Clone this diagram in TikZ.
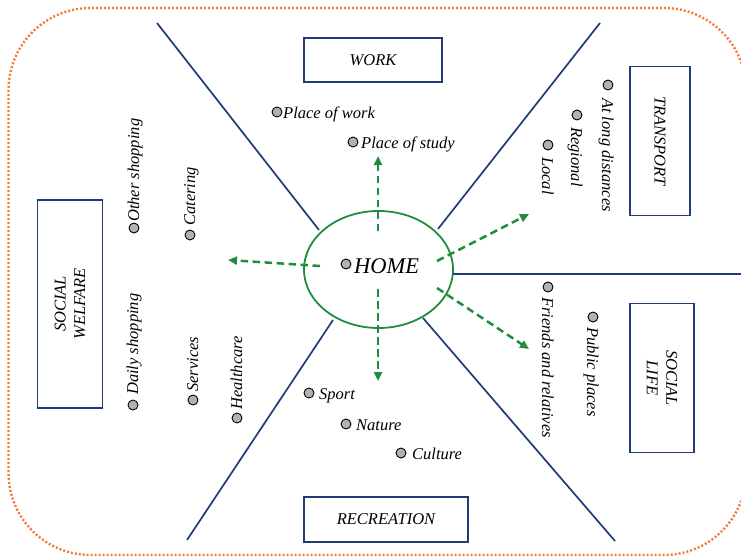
\documentclass[tikz,border=0pt]{standalone}
\usepackage{fontspec}
\setmainfont{Liberation Serif}
\usetikzlibrary{shapes.geometric,arrows.meta,calc}
\definecolor{navyc}{HTML}{203C78}
\definecolor{orangec}{HTML}{F47A3A}
\definecolor{greenc}{HTML}{1F8C3E}
\definecolor{dotgray}{HTML}{B2B2B4}
\begin{document}
\begin{tikzpicture}[x=1pt,y=-1pt,
  lbl/.style={font=\fontsize{16.5}{19}\selectfont\itshape, inner sep=0pt},
  itm/.style={circle, draw=black, fill=dotgray, line width=0.9pt, minimum size=10pt, inner sep=0pt},
  boxn/.style={draw=navyc, line width=1.8pt, fill=white, inner sep=0pt, align=center,
    font=\fontsize{16.5}{19.5}\selectfont\itshape},
  navyline/.style={draw=navyc, line width=1.7pt},
  garrow/.style={draw=greenc, line width=2.5pt, dash pattern=on 7.5pt off 4.5pt,
    -{Triangle[length=9pt,width=8pt]}},
  border/.style={draw=orangec, line width=2.4pt, dash pattern=on 2pt off 2pt, rounded corners=82pt}
]
\path[use as bounding box] (0,0) rectangle (741,557);
\clip (0,0) rectangle (741,557);

% outer border
\draw[border] (8.5,8) rectangle (746,555);

% home ellipse
\node[ellipse, draw=greenc, line width=1.8pt, minimum width=149pt, minimum height=117pt, inner sep=0pt] (home) at (378.5,269.5) {};
\node[itm] (homedot) at (346,264) {};
\node[inner sep=0pt, anchor=base west, font=\fontsize{22.5}{26}\selectfont\itshape] (hometxt) at (354,273) {HOME};

% navy dividing lines
\coordinate (l1a) at (157,23);  \coordinate (l1b) at (319,230);
\coordinate (l2a) at (600,23);  \coordinate (l2b) at (438,229);
\coordinate (l3a) at (453,274); \coordinate (l3b) at (746,274);
\coordinate (l4a) at (187,540); \coordinate (l4b) at (333,320);
\coordinate (l5a) at (615,541); \coordinate (l5b) at (423,318);
\draw[navyline] (l1a) -- (l1b);
\draw[navyline] (l2a) -- (l2b);
\draw[navyline] (l3a) -- (l3b);
\draw[navyline] (l4a) -- (l4b);
\draw[navyline] (l5a) -- (l5b);

% boxes
\node[boxn, minimum width=138pt, minimum height=44pt] (work) at (373,60) {WORK};
\node[boxn, rotate=-90, minimum width=149pt, minimum height=60pt] (transport) at (660,141) {TRANSPORT};
\node[boxn, rotate=90, minimum width=208pt, minimum height=65pt] (welfare) at (70,304) {SOCIAL\\WELFARE};
\node[boxn, rotate=-90, minimum width=149pt, minimum height=64pt] (social) at (662,378) {SOCIAL\\LIFE};
\node[boxn, minimum width=164pt, minimum height=45pt] (recreation) at (386,519.5) {RECREATION};

% green arrows
\coordinate (au0) at (378,231); \coordinate (au1) at (378,156);
\coordinate (ad0) at (378,289); \coordinate (ad1) at (378,381);
\coordinate (al0) at (320,266); \coordinate (al1) at (228,260);
\coordinate (ar0) at (437,261); \coordinate (ar1) at (529,214);
\coordinate (ab0) at (437,288); \coordinate (ab1) at (529,349);
\draw[garrow] (au0) -- (au1);
\draw[garrow] (ad0) -- (ad1);
\draw[garrow] (al0) -- (al1);
\draw[garrow] (ar0) -- (ar1);
\draw[garrow] (ab0) -- (ab1);

% work items
\node[itm] (d1) at (277,112) {};
\node[lbl, anchor=base west] (t1) at (283,118) {Place of work};
\node[itm] (d2) at (353,142) {};
\node[lbl, anchor=base west] (t2) at (361,148) {Place of study};

% transport items
\node[itm] (d3) at (608,85) {};
\node[lbl, anchor=base west, rotate=-90] (t3) at (602,98) {At long distances};
\node[itm] (d4) at (577,115) {};
\node[lbl, anchor=base west, rotate=-90] (t4) at (571,127) {Regional};
\node[itm] (d5) at (548,145) {};
\node[lbl, anchor=base west, rotate=-90] (t5) at (542,157) {Local};

% social life items
\node[itm] (d6) at (548,287) {};
\node[lbl, anchor=base west, rotate=-90] (t6) at (542,297) {Friends and relatives};
\node[itm] (d7) at (593,317) {};
\node[lbl, anchor=base west, rotate=-90] (t7) at (587,327) {Public places};

% social welfare items
\node[itm] (d8) at (134,228) {};
\node[lbl, anchor=base west, rotate=90] (t8) at (139,222) {Other shopping};
\node[itm] (d9) at (190,235) {};
\node[lbl, anchor=base west, rotate=90] (t9) at (195,226) {Catering};
\node[itm] (d10) at (133,405) {};
\node[lbl, anchor=base west, rotate=90] (t10) at (138,395) {Daily shopping};
\node[itm] (d11) at (193,400) {};
\node[lbl, anchor=base west, rotate=90] (t11) at (198,392) {Services};
\node[itm] (d12) at (237,418) {};
\node[lbl, anchor=base west, rotate=90] (t12) at (242,410) {Healthcare};

% recreation items
\node[itm] (d13) at (309,393) {};
\node[lbl, anchor=base west] (t13) at (319,399) {Sport};
\node[itm] (d14) at (346,424) {};
\node[lbl, anchor=base west] (t14) at (356,430) {Nature};
\node[itm] (d15) at (401,453) {};
\node[lbl, anchor=base west] (t15) at (412,459) {Culture};
\end{tikzpicture}
\end{document}
